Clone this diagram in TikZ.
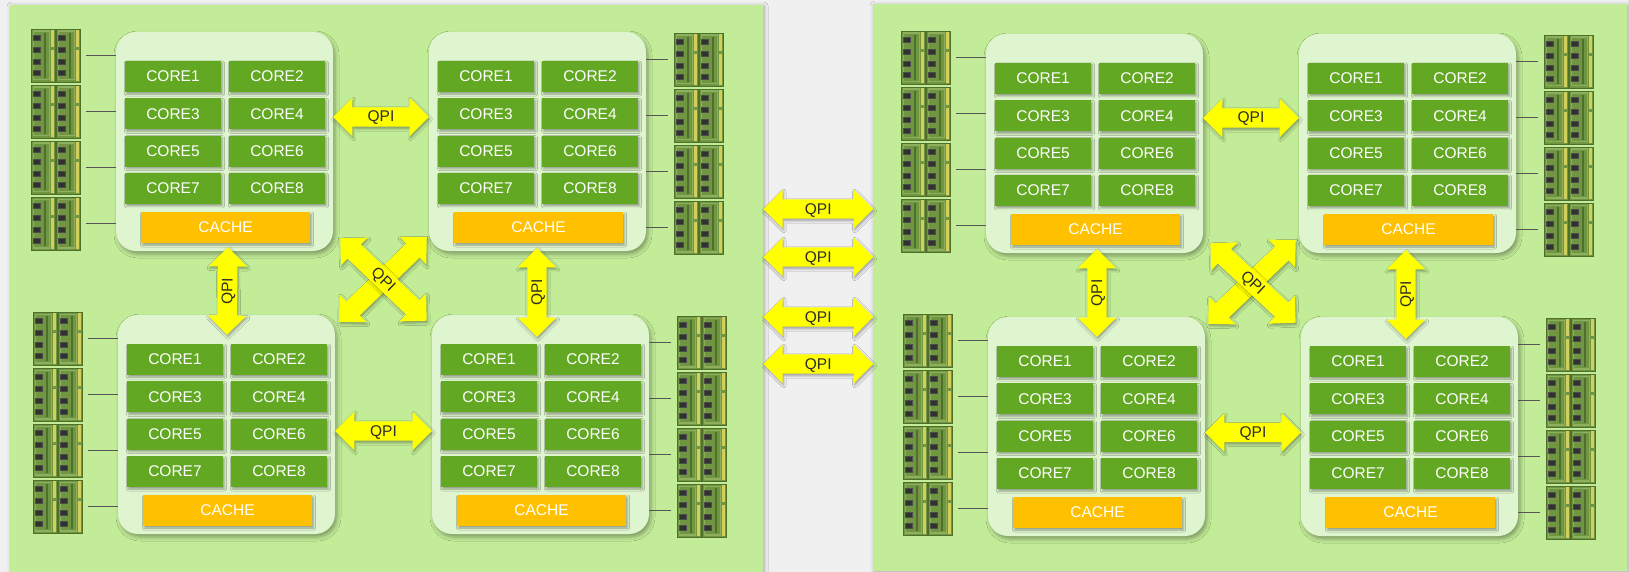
\documentclass[tikz,border=0pt]{standalone}
\usepackage{fontspec}
\setmainfont{Liberation Sans}
\usetikzlibrary{shapes.arrows, shadows.blur, calc}

\definecolor{pageGray}{RGB}{240, 240, 240}
\definecolor{boardGreen}{RGB}{194, 236, 152}
\definecolor{socketGreen}{RGB}{223, 245, 207}
\definecolor{coreGreen}{RGB}{98, 168, 34}
\definecolor{cacheOrange}{RGB}{255, 192, 0}
\definecolor{qpiYellow}{RGB}{255, 255, 0}
\definecolor{qpiText}{RGB}{45, 45, 45}
\definecolor{linkGray}{RGB}{85, 85, 85}
\definecolor{dimmGreen}{RGB}{112, 150, 66}
\definecolor{dimmLight}{RGB}{140, 176, 94}
\definecolor{dimmEdge}{RGB}{78, 112, 42}
\definecolor{chipDark}{RGB}{48, 50, 46}
\definecolor{pinYellow}{RGB}{210, 208, 90}

\tikzset{
    % Boards and sockets
    board/.style={
        rectangle, anchor=north west, fill=boardGreen, draw=none,
        blur shadow={shadow xshift=1pt, shadow yshift=-1pt, shadow blur radius=4pt, shadow opacity=30}
    },
    socketBox/.style={
        rectangle, rounded corners=20pt, fill=socketGreen,
        minimum width=217pt, minimum height=219pt,
        blur shadow={shadow xshift=2pt, shadow yshift=-3pt, shadow blur radius=4pt, shadow opacity=35}
    },
    unitText/.style={
        text=white, font=\fontsize{15.5}{16}\selectfont,
        inner sep=0pt, minimum height=31pt,
        blur shadow={shadow xshift=1.5pt, shadow yshift=-2pt, shadow blur radius=2pt, shadow opacity=35}
    },
    coreBox/.style={rectangle, fill=coreGreen, minimum width=96pt, unitText},
    cacheBox/.style={rectangle, fill=cacheOrange, minimum width=169pt, unitText},
    % Memory sticks and channels
    dimmStick/.style={
        rectangle, fill=dimmGreen, draw=dimmEdge, line width=0.8pt,
        minimum width=24pt, minimum height=53pt, inner sep=0pt,
        path picture={
            \fill[dimmLight] ([shift={(1.5pt,-1.5pt)}]path picture bounding box.north west)
                rectangle ([shift={(-5pt,1.5pt)}]path picture bounding box.south east);
            \fill[dimmGreen] ([shift={(3pt,-3pt)}]path picture bounding box.north west)
                rectangle ([shift={(-6.5pt,3pt)}]path picture bounding box.south east);
            \draw[dimmEdge, line width=1.2pt] ([shift={(14pt,-4pt)}]path picture bounding box.north west) -- ++(0pt,-45pt);
            \foreach \k in {0,...,3}
                \filldraw[fill=chipDark, draw=gray!60!black, line width=0.4pt]
                    ([shift={(2.5pt,{-6.5pt-11.7pt*\k})}]path picture bounding box.north west) rectangle ++(6.5pt,-5pt);
            \fill[pinYellow] ([shift={(-4.5pt,-1pt)}]path picture bounding box.north east) rectangle ++(3.5pt,-17pt);
            \fill[pinYellow] ([shift={(-4.5pt,-21pt)}]path picture bounding box.north east) rectangle ++(3.5pt,-31pt);
        }
    },
    memLink/.style={draw=linkGray, line width=1.2pt},
    % QPI arrows
    qpiLink/.style={
        double arrow, fill=qpiYellow, draw=none,
        double arrow head extend=9.5pt, double arrow tip angle=90,
        minimum width=38pt, inner xsep=0pt, inner ysep=3.5pt,
        text height=11pt, text depth=1pt, text=qpiText,
        font=\fontsize{15.5}{16}\selectfont,
        blur shadow={shadow xshift=1pt, shadow yshift=-2pt, shadow blur radius=2.5pt, shadow opacity=35}
    },
    % One package: 8 cores and the shared cache
    pics/socket/.style={code={
        \node[socketBox] (-box) at (108.5,109.5) {};
        \foreach \r in {0,...,3}
            \foreach \c in {1,2} {
                \pgfmathtruncatemacro\k{2*\r+\c}
                \node[coreBox] (-c\k) at ({57+104*(\c-1)},{44.5+37.33*\r}) {CORE\k};
            }
        \node[cacheBox] (-cache) at (109.5,195.5) {CACHE};
    }},
    % Two columns of four sticks
    pics/memBank/.style={code={
        \foreach \r in {1,...,4} {
            \node[dimmStick] (-l\r) at (12,{26.5+56*(\r-1)}) {};
            \node[dimmStick] (-r\r) at (37,{26.5+56*(\r-1)}) {};
        }
    }}
}

% fat double arrow from one point to another
\newcommand\qpilink[4][]{%
    \path let \p1=(#2), \p2=(#3),
        \n1={veclen(\x2-\x1,\y2-\y1)}, \n2={atan2(\y2-\y1,\x2-\x1)} in
        node[qpiLink, minimum height=\n1, rotate=\n2, #1] at ($(\p1)!0.5!(\p2)$) {#4};%
}

\begin{document}
\begin{tikzpicture}[x=1pt, y=-1pt]

    \useasboundingbox (0,0) rectangle (1629,572);
    \fill[pageGray] (0,0) rectangle (1629,572);

    % --- BOARDS ---
    \node[board, minimum width=753pt, minimum height=572pt] (boardL) at (10,5) {};
    \node[board, minimum width=754pt, minimum height=567pt] (boardR) at (873,4) {};

    % --- SOCKETS ---
    \pic (cpuA) at (116,32) {socket};
    \pic (cpuB) at (429,32) {socket};
    \pic (cpuC) at (118,315) {socket};
    \pic (cpuD) at (432,315) {socket};
    \pic (cpuE) at (986,34) {socket};
    \pic (cpuF) at (1299,34) {socket};
    \pic (cpuG) at (988,317) {socket};
    \pic (cpuH) at (1301,317) {socket};

    % --- MEMORY ---
    \pic (bankA) at (31,29) {memBank};
    \pic (bankC) at (33,312) {memBank};
    \pic (bankE) at (901,31) {memBank};
    \pic (bankG) at (903,314) {memBank};
    \pic (bankB) at (674,33) {memBank};
    \pic (bankD) at (677,316) {memBank};
    \pic (bankF) at (1544,35) {memBank};
    \pic (bankH) at (1546,318) {memBank};

    \foreach \s in {A,C,E,G}
        \foreach \r in {1,...,4}
            \draw[memLink, shorten <=6pt] (bank\s-r\r.east) -- (bank\s-r\r.east -| cpu\s-box.west);
    \foreach \s in {B,D,F,H}
        \foreach \r in {1,...,4}
            \draw[memLink, shorten <=6pt] (bank\s-l\r.west) -- (bank\s-l\r.west -| cpu\s-box.east);

    % --- QPI: left board ---
    \qpilink{$(cpuA-box.east)+(0,-24.5)$}{$(cpuB-box.west)+(0,-24.5)$}{QPI}
    \qpilink{$(cpuC-box.east)+(0,6.5)$}{$(cpuD-box.west)+(0,6.5)$}{QPI}
    \qpilink{$(cpuC-box.north)+(0.5,20)$}{$(cpuA-box.south)+(3.5,-4)$}{QPI}
    \qpilink{$(cpuD-box.north)+(-3.5,22)$}{$(cpuB-box.south)+(-0.5,-3)$}{QPI}
    \qpilink{$(cpuC-box.north east)+(4,7)$}{$(cpuB-box.south west)+(-2,-14)$}{}
    \qpilink{$(cpuA-box.south east)+(7,-13)$}{$(cpuD-box.north west)+(-5,6)$}{QPI}

    % --- QPI: right board ---
    \qpilink{$(cpuE-box.east)+(0,-25.5)$}{$(cpuF-box.west)+(0,-25.5)$}{QPI}
    \qpilink{$(cpuG-box.east)+(0,6)$}{$(cpuH-box.west)+(0,6)$}{QPI}
    \qpilink{$(cpuG-box.north)+(0.5,20)$}{$(cpuE-box.south)+(2.5,-4)$}{QPI}
    \qpilink{$(cpuH-box.north)+(-3.5,22)$}{$(cpuF-box.south)+(-1.5,-3)$}{QPI}
    \qpilink{$(cpuG-box.north east)+(3,7)$}{$(cpuF-box.south west)+(-3,-13)$}{}
    \qpilink{$(cpuE-box.south east)+(7,-10)$}{$(cpuH-box.north west)+(-5,6)$}{QPI}

    % --- QPI: board to board ---
    \foreach \dy in {204,252,312,359} {
        \qpilink{$(boardL.north east)+(0,\dy)$}{$(boardR.north west)+(0,\dy+1)$}{QPI}
    }

\end{tikzpicture}
\end{document}
